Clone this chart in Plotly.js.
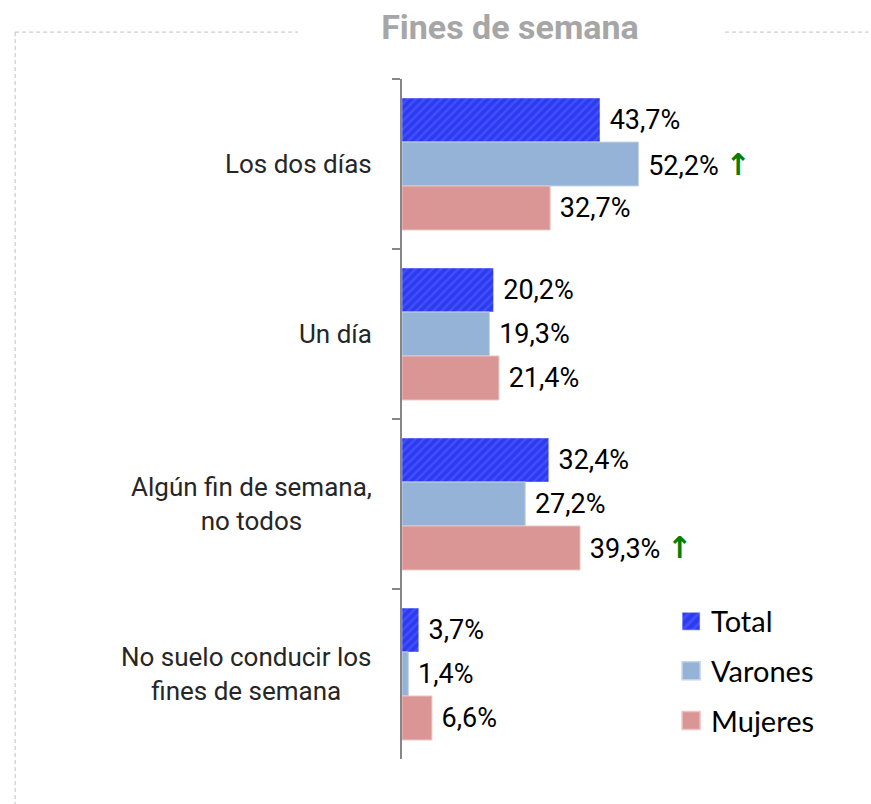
<!DOCTYPE html>
<html>
<head>
<meta charset="utf-8">
<script src="https://cdn.plot.ly/plotly-3.0.1.min.js"></script>
<style>
html,body{margin:0;padding:0;background:#fff;}
#chart{width:871px;height:804px;}
</style>
</head>
<body>
<div id="chart"></div>
<script>
// ---- data ----
const categories = ["Los dos días", "Un día", "Algún fin de semana,<br>no todos", "No suelo conducir los<br>fines de semana"];
const seriesNames = ["Total", "Varones", "Mujeres"];
const total   = [43.7, 20.2, 32.4, 3.7];
const varones = [52.2, 19.3, 27.2, 1.4];
const mujeres = [32.7, 21.4, 39.3, 6.6];
// significant-increase marks (green arrow)
const arrowsTotal   = [false, false, false, false];
const arrowsVarones = [true, false, false, false];
const arrowsMujeres = [false, false, true, false];

const NARROW = "Roboto, 'Liberation Sans Narrow', 'Arial Narrow', sans-serif";
const fmt = (v, up) => "\u00a0" + v.toFixed(1).replace(".", ",") + "%" +
  (up ? " <span style='color:#008000;font-family:DejaVu Sans;font-size:30px;font-weight:bold'>↑</span>" : "");

function barTrace(name, vals, arrows, marker) {
  return {
    type: "bar", orientation: "h", name: name,
    x: vals, y: categories,
    text: vals.map((v, i) => fmt(v, arrows[i])),
    textposition: "outside", texttemplate: "%{text}",
    constraintext: "none", cliponaxis: false,
    textfont: {family: NARROW, size: 27, color: "#000"},
    outsidetextfont: {family: NARROW, size: 27, color: "#000"},
    marker: marker, hoverinfo: "skip", legendgroup: name
  };
}

const data = [
  barTrace(seriesNames[0], total, arrowsTotal, {
    color: "#2d3af2",
    pattern: {shape: "/", fgcolor: "#5568ff", bgcolor: "#2d3af2", size: 6, solidity: 0.4, fillmode: "overlay"},
    line: {color: "rgba(255,255,255,0.4)", width: 1}
  }),
  barTrace(seriesNames[1], varones, arrowsVarones, {color: "#95b3d7", line: {color: "#c3d4ea", width: 1}}),
  barTrace(seriesNames[2], mujeres, arrowsMujeres, {color: "#d99694", line: {color: "#ebc4c3", width: 1}})
];

const annotations = categories.map(c => ({
  xref: "x", yref: "y", x: 0, y: c, text: c,
  xanchor: "right", yanchor: "middle", xshift: -28, align: "center",
  showarrow: false, font: {family: NARROW, size: 26, color: "#262626"}
}));

const dashColor = "#c0c0c0";
const shapes = [
  {type: "line", xref: "paper", yref: "paper", x0: -0.854, x1: -0.2296, y0: 1.069, y1: 1.069, line: {color: dashColor, width: 1, dash: "4px,3px"}},
  {type: "line", xref: "paper", yref: "paper", x0: 0.713, x1: 1.03, y0: 1.069, y1: 1.069, line: {color: dashColor, width: 1, dash: "4px,3px"}},
  {type: "line", xref: "paper", yref: "paper", x0: -0.854, x1: -0.854, y0: 1.069, y1: -0.07, line: {color: dashColor, width: 1, dash: "4px,3px"}}
];

const layout = {
  width: 871, height: 804,
  margin: {l: 402, r: 16, t: 79, b: 45},
  paper_bgcolor: "#fff", plot_bgcolor: "#fff",
  title: {
    text: "Fines de semana", x: 0.5855, xanchor: "center", xref: "container",
    y: 0.966, yanchor: "middle", yref: "container",
    font: {family: NARROW, size: 34, color: "#a6a6a6", weight: "bold"}
  },
  barmode: "group", bargap: 0.224, bargroupgap: 0,
  xaxis: {range: [0, 100], visible: false, fixedrange: true},
  yaxis: {
    type: "category", autorange: "reversed", showticklabels: false,
    showline: true, linecolor: "#868686", linewidth: 2,
    ticks: "outside", tickson: "boundaries", ticklen: 8, tickwidth: 2, tickcolor: "#868686",
    showgrid: false, zeroline: false, fixedrange: true
  },
  showlegend: true,
  legend: {
    x: 0.594, y: 0.240, xanchor: "left", yanchor: "top",
    traceorder: "grouped", tracegroupgap: 9,
    font: {family: "Lato, 'Open Sans', sans-serif", size: 29, color: "#000"},
    bgcolor: "rgba(0,0,0,0)"
  },
  annotations: annotations,
  shapes: shapes
};

Plotly.newPlot("chart", data, layout, {staticPlot: true}).then(gd => {
  gd.querySelectorAll(".legendpoints path").forEach(p => {
    const t = p.getAttribute("transform") || "";
    p.setAttribute("transform", t + " scale(1.5)");
  });
});
</script>
</body>
</html>
